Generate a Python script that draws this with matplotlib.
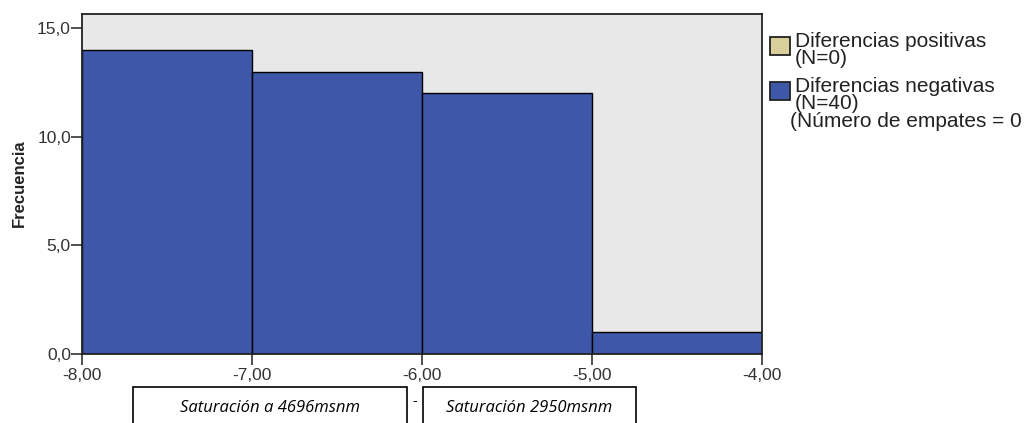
import matplotlib
matplotlib.use("Agg")
import matplotlib.pyplot as plt
from matplotlib.patches import Rectangle
from matplotlib.ticker import FuncFormatter

bin_edges = [-8.0, -7.0, -6.0, -5.0, -4.0]
neg_counts = [14, 13, 12, 1]
pos_counts = [0, 0, 0, 0]
legend_lines = [["Diferencias positivas", "(N=0)"], ["Diferencias negativas", "(N=40)"]]
ties_text = "(Número de empates = 0"
xticks = [-8, -7, -6, -5, -4]
yticks = [0, 5, 10, 15]
box_labels = ["Saturación a 4696msnm", "Saturación 2950msnm"]

W, H = 1028, 423
plt.rcParams['font.family'] = ['Liberation Sans', 'DejaVu Sans']
fig = plt.figure(figsize=(W / 100, H / 100), dpi=100)

ax = fig.add_axes([82 / W, 1 - 354 / H, (762 - 82) / W, (354 - 14) / H])
ax.set_facecolor('#E8E8E8')
blue = '#3E57A8'
tan = '#D8CF9A'
widths = [bin_edges[i + 1] - bin_edges[i] for i in range(len(neg_counts))]
ax.bar(bin_edges[:-1], neg_counts, width=widths, align='edge', color=blue,
       edgecolor='black', linewidth=1.0)
ax.set_xlim(-8, -4)
ax.set_ylim(0, 15.65)
ax.set_xticks(xticks)
ax.set_yticks(yticks)
ax.xaxis.set_major_formatter(FuncFormatter(lambda v, p: f"{v:.2f}".replace('.', ',')))
ax.yaxis.set_major_formatter(FuncFormatter(lambda v, p: f"{v:.1f}".replace('.', ',')))
ax.tick_params(axis='both', labelsize=12.5, length=8, width=1.2, colors='#333333',
               labelcolor='#333333')
ax.tick_params(axis='y', pad=0)
ax.tick_params(axis='x', pad=2)
for s in ax.spines.values():
    s.set_linewidth(1.3)
    s.set_color('#222222')
ax.set_ylabel("Frecuencia", fontsize=12, fontweight='bold', color='#222222')
ax.yaxis.set_label_coords(27 / W, 1 - 183 / H, transform=fig.transFigure)

# Legend (manual)
def legend_entry(sq_top, base1, color, lines):
    fig.patches.append(Rectangle((770 / W, 1 - (sq_top + 18) / H), 20 / W, 18 / H,
                                 transform=fig.transFigure, facecolor=color,
                                 edgecolor='#222222', linewidth=1.3))
    for i, t in enumerate(lines):
        fig.text(795 / W, 1 - (base1 + 17 * i) / H, t, fontsize=15, va='baseline',
                 ha='left', color='#222222')

legend_entry(37, 47, tan, legend_lines[0])
legend_entry(82, 92, blue, legend_lines[1])
fig.text(790 / W, 1 - 127 / H, ties_text, fontsize=15, va='baseline', ha='left',
         color='#222222')

# Boxes below
boxes = [(133, 407), (423, 636)]
for (x0, x1), lab in zip(boxes, box_labels):
    fig.patches.append(Rectangle((x0 / W, -0.05), (x1 - x0) / W, 1 - 387 / H + 0.05,
                                 transform=fig.transFigure, facecolor='white',
                                 edgecolor='black', linewidth=1.2))
    fig.text((x0 + x1) / 2 / W, 1 - 408 / H, lab, fontsize=12, style='italic',
             ha='center', va='center', family=['Open Sans', 'DejaVu Sans'])
fig.text(415 / W, 1 - 401 / H, "-", fontsize=10, ha='center', va='center')

fig.savefig("out.png", dpi=100)
